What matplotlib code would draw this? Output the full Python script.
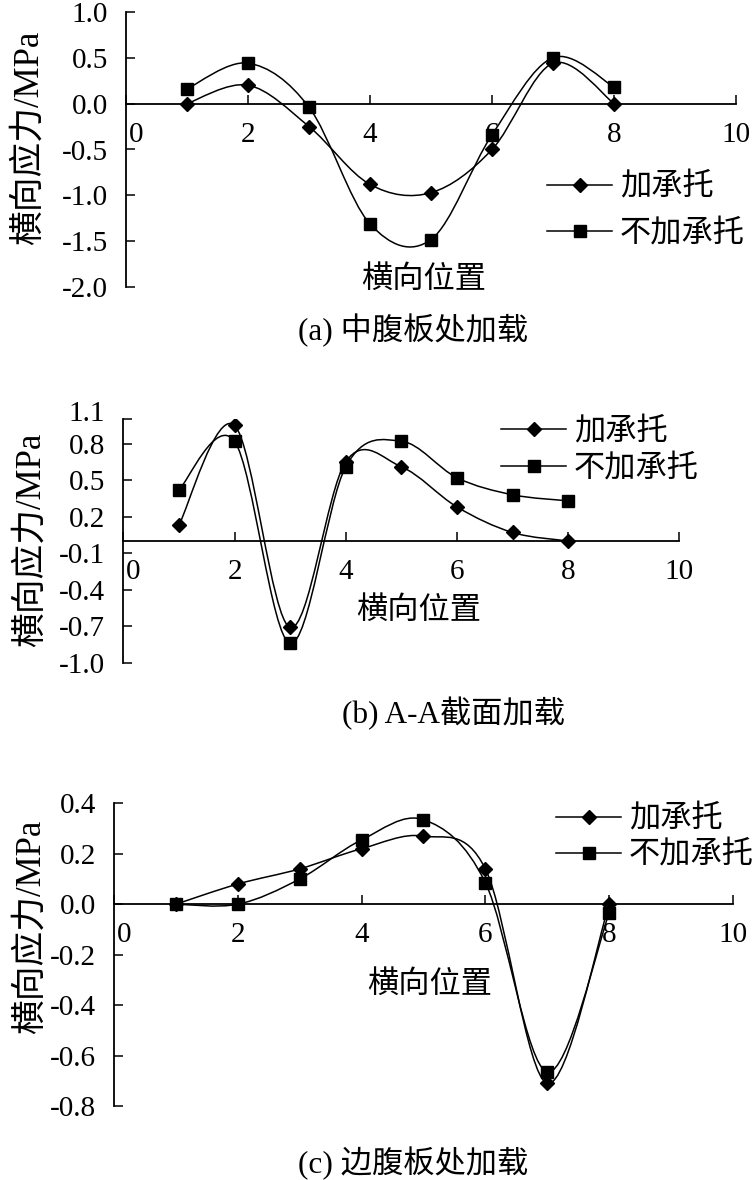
import numpy as np
import matplotlib
matplotlib.use('Agg')
import matplotlib.pyplot as plt
from matplotlib.path import Path
from matplotlib.patches import PathPatch
from matplotlib.lines import Line2D
from matplotlib.transforms import ScaledTranslation

plt.rcParams['font.family'] = ['Liberation Serif', 'Noto Sans CJK SC']

# transverse position of the measuring points
x = [1, 2, 3, 4, 5, 6, 7, 8]
xticks = [0, 2, 4, 6, 8, 10]
xticklabels = ['0', '2', '4', '6', '8', '10']

# (a) load on the middle web
a_with = [0.0, 0.20, -0.25, -0.88, -0.97, -0.50, 0.44, 0.0]
a_without = [0.16, 0.44, -0.04, -1.31, -1.48, -0.34, 0.50, 0.18]
a_yticks = [-2.0, -1.5, -1.0, -0.5, 0.0, 0.5, 1.0]
a_yticklabels = ['-2.0', '-1.5', '-1.0', '-0.5', '0.0', '0.5', '1.0']

# (b) load at section A-A
b_with = [0.13, 0.95, -0.71, 0.65, 0.61, 0.28, 0.07, 0.0]
b_without = [0.42, 0.82, -0.84, 0.61, 0.82, 0.52, 0.38, 0.33]
b_yticks = [-1.0, -0.7, -0.4, -0.1, 0.2, 0.5, 0.8, 1.0]
b_yticklabels = ['-1.0', '-0.7', '-0.4', '-0.1', '0.2', '0.5', '0.8', '1.1']

# (c) load on the side web
c_with = [0.0, 0.08, 0.14, 0.22, 0.27, 0.14, -0.71, 0.0]
c_without = [0.0, 0.0, 0.10, 0.255, 0.335, 0.085, -0.665, -0.035]
c_yticks = [-0.8, -0.6, -0.4, -0.2, 0.0, 0.2, 0.4]
c_yticklabels = ['-0.8', '-0.6', '-0.4', '-0.2', '0.0', '0.2', '0.4']

labels = ['加承托', '不加承托']

W, H = 752, 1180
fig = plt.figure(figsize=(W / 100, H / 100), dpi=100)

CJK = 22.5
NUM = 21
LW = 1.1


def px(x0, y0):
    return x0 / W, 1 - y0 / H


def smooth_path(xs, ys):
    # excel style smoothed line: bezier segments, catmull-rom control points
    pts = np.column_stack([xs, ys]).astype(float)
    n = len(pts)
    verts = [pts[0]]
    codes = [Path.MOVETO]
    for i in range(n - 1):
        p0 = pts[max(i - 1, 0)]
        p1 = pts[i]
        p2 = pts[i + 1]
        p3 = pts[min(i + 2, n - 1)]
        verts += [p1 + (p2 - p0) / 6, p2 - (p3 - p1) / 6, p2]
        codes += [Path.CURVE4] * 3
    return Path(verts, codes)


def shift(label, dx_px, dy_px):
    label.set_transform(label.get_transform() +
                        ScaledTranslation(dx_px / 100, dy_px / 100,
                                          fig.dpi_scale_trans))


def panel(box, ylim, yticks, yticklabels, s_with, s_without,
          ylab_xy, xlab_xy, leg_xy, leg_gap, caption, cap_xy):
    l, t, r, b = box
    ax = fig.add_axes([l / W, 1 - b / H, (r - l) / W, (b - t) / H])
    for ys, mk, ms in [(s_with, 'D', 7), (s_without, 's', 9)]:
        ax.add_patch(PathPatch(smooth_path(x, ys), fill=False,
                               lw=LW, color='black'))
        ax.plot(x, ys, ls='none', marker=mk, ms=ms, color='black')
    ax.set_xlim(0, 10)
    ax.set_ylim(*ylim)
    ax.spines['top'].set_visible(False)
    ax.spines['right'].set_visible(False)
    ax.spines['bottom'].set_position(('data', 0))
    ax.spines['left'].set_linewidth(1.3)
    ax.spines['bottom'].set_linewidth(1.3)
    ax.set_xticks(xticks)
    ax.set_xticklabels(xticklabels)
    ax.set_yticks(yticks)
    ax.set_yticklabels(yticklabels)
    ax.tick_params(direction='in', length=6.5, width=1.1, labelsize=NUM,
                   pad=13)
    ax.patch.set_visible(False)
    # excel moves the "0" label off the vertical axis
    shift(ax.get_xticklabels()[0], 10, 0)

    fig.text(*px(*ylab_xy), '横向应力/MPa', rotation=90, ha='center',
             va='center', fontsize=25)
    fig.text(*px(*xlab_xy), '横向位置', ha='center', va='center',
             fontsize=CJK)
    fig.text(*px(*cap_xy), caption, ha='center', va='center', fontsize=CJK)

    handles = [Line2D([], [], color='black', lw=LW, marker='D', ms=7),
               Line2D([], [], color='black', lw=LW, marker='s', ms=9)]
    ax.legend(handles, labels, loc='upper left',
              bbox_to_anchor=px(*leg_xy), bbox_transform=fig.transFigure,
              frameon=False, fontsize=CJK, handlelength=2.08,
              handletextpad=0.26, labelspacing=leg_gap, borderpad=0,
              borderaxespad=0)
    return ax


panel((126, 11.7, 736, 287.3), (-2.0, 1.0), a_yticks, a_yticklabels,
      a_with, a_without, (29, 138), (424, 280), (547, 174), 0.55,
      '(a) 中腹板处加载', (413, 330))
axb = panel((123.3, 419.3, 679.3, 662.7), (-1.0, 1.0), b_yticks,
            b_yticklabels, b_with, b_without, (31, 540), (419, 611),
            (501, 418), 0.26, '(b) A-A截面加载', (453, 714))
# the top label of (b) sits a little above its tick
shift(axb.get_yticklabels()[-1], 0, 8)
panel((114, 803.3, 733, 1106), (-0.8, 0.4), c_yticks, c_yticklabels,
      c_with, c_without, (31, 927), (430, 985), (556, 806), 0.21,
      '(c) 边腹板处加载', (413, 1163))

fig.savefig('out.png', dpi=100)
